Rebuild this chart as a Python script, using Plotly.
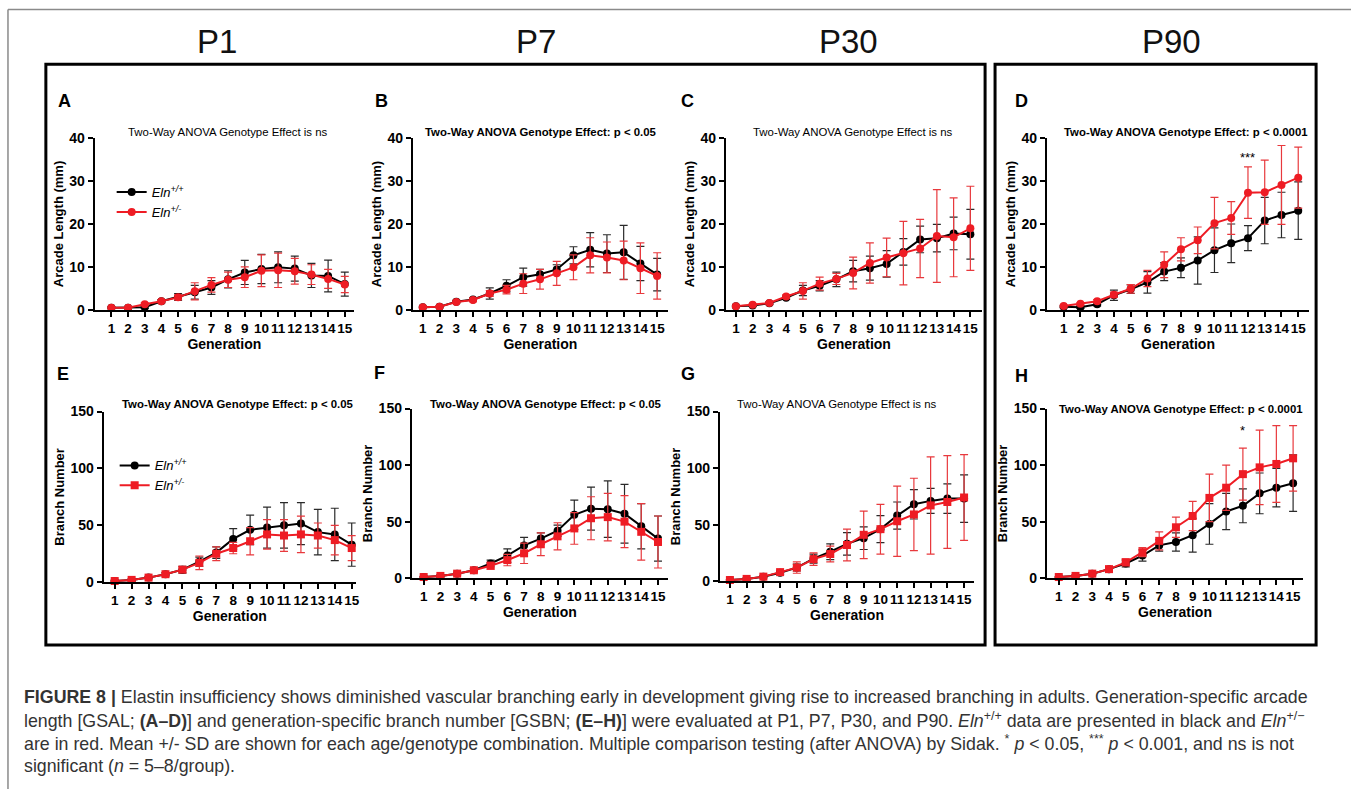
import plotly.graph_objects as go

W, H = 1355, 789
FONT = "Liberation Sans, Arial, Helvetica, sans-serif"
BLACK = "#000000"
RED = "#ee1c24"
EB_BLACK = "#2a2a2a"
EB_RED = "#e8393d"

generations = list(range(1, 16))
gen_labels = [str(g) for g in generations]
age_labels = ["P1", "P7", "P30", "P90"]
legend_wt = "<i>Eln<sup>+/+</sup></i>"
legend_het = "<i>Eln<sup>+/-</sup></i>"

# ---- Arcade length (mm), panels A-D ----
A_wt = [0.5, 0.5, 0.6, 2.0, 3.0, 4.1, 5.2, 7.1, 8.7, 9.5, 9.9, 9.6, 8.0, 7.9, 6.0]
A_wt_sd = [0.2, 0.2, 0.3, 0.4, 0.8, 1.6, 1.6, 2.0, 2.8, 3.4, 3.6, 2.9, 2.8, 3.7, 2.8]
A_het = [0.5, 0.5, 1.3, 2.0, 2.9, 4.3, 5.8, 7.0, 7.6, 9.1, 9.2, 9.0, 8.2, 7.2, 5.9]
A_het_sd = [0.2, 0.2, 0.3, 0.3, 0.6, 2.0, 1.7, 1.8, 2.4, 3.7, 4.0, 3.0, 2.3, 2.2, 1.9]

B_wt = [0.6, 0.7, 1.9, 2.4, 3.8, 5.6, 7.6, 8.3, 9.4, 12.7, 14.0, 13.1, 13.4, 10.8, 8.2]
B_wt_sd = [0.2, 0.2, 0.3, 0.4, 1.3, 1.4, 2.1, 1.1, 1.1, 2.0, 4.0, 4.4, 6.3, 4.0, 3.8]
B_het = [0.6, 0.7, 1.8, 2.3, 3.8, 4.7, 6.1, 7.1, 8.5, 9.9, 12.7, 12.2, 11.5, 9.7, 7.9]
B_het_sd = [0.2, 0.2, 0.3, 0.4, 0.7, 1.0, 2.3, 2.3, 2.8, 2.9, 4.1, 3.6, 4.5, 5.9, 5.4]

C_wt = [0.8, 1.0, 1.5, 2.8, 4.5, 5.6, 7.1, 9.0, 9.7, 10.7, 13.5, 16.4, 16.7, 17.8, 17.6]
C_wt_sd = [0.2, 0.2, 0.3, 0.4, 1.2, 1.2, 1.7, 2.5, 2.8, 3.1, 3.1, 3.1, 3.2, 3.8, 5.8]
C_het = [0.8, 1.2, 1.6, 3.1, 4.4, 6.1, 7.2, 8.6, 10.9, 12.2, 13.2, 14.3, 17.2, 16.9, 19.0]
C_het_sd = [0.2, 0.2, 0.3, 0.4, 1.9, 1.5, 1.3, 3.7, 4.7, 4.5, 7.4, 6.8, 10.8, 9.2, 9.8]

D_wt = [0.7, 0.6, 1.3, 3.4, 4.8, 6.4, 8.9, 9.8, 11.5, 13.9, 15.5, 16.7, 20.8, 22.1, 23.1]
D_wt_sd = [0.2, 0.3, 0.4, 1.2, 1.0, 2.5, 2.1, 2.3, 5.5, 5.2, 4.5, 2.9, 5.4, 5.3, 6.7]
D_het = [0.9, 1.4, 2.0, 3.5, 4.9, 7.3, 10.5, 14.1, 16.2, 20.2, 21.4, 27.3, 27.4, 29.1, 30.8]
D_het_sd = [0.2, 0.3, 0.4, 0.6, 1.0, 1.9, 3.0, 2.7, 3.1, 6.0, 3.8, 6.0, 7.5, 9.2, 7.1]

# ---- Branch number, panels E-H ----
E_wt = [1, 2, 4, 7, 11, 18, 26, 38, 46, 48, 50, 51.5, 44, 42, 33]
E_wt_sd = [0.5, 0.8, 1, 1.5, 3, 4, 5, 9, 13, 18, 20, 18.5, 20, 23, 19]
E_het = [1, 2, 4, 7, 11, 17, 25, 30, 36, 42, 41, 42, 41, 37, 30]
E_het_sd = [0.5, 0.8, 1, 1.5, 2.5, 6, 6, 5, 12, 13, 14, 16, 11, 13, 11]

F_wt = [1, 2, 4, 7, 13, 20, 29, 35, 42, 56, 61.5, 61, 57, 46, 35]
F_wt_sd = [0.5, 0.8, 1, 1.5, 3, 6, 7, 5, 5, 13, 19, 25, 26, 20, 20]
F_het = [1, 2, 4, 7, 11, 16, 22, 30, 37, 44, 53, 54, 50, 41, 32]
F_het_sd = [0.5, 0.8, 1, 1.5, 3, 5, 9, 10, 12, 14, 19, 21, 23, 25, 23]

G_wt = [1, 2, 4, 7.5, 12, 20, 26, 33, 38, 46, 58, 68, 71, 73, 73]
G_wt_sd = [0.5, 0.8, 1, 1.5, 3, 4, 7, 10, 10, 12, 12, 13, 11, 13, 21]
G_het = [1, 2, 4, 8, 12, 19.5, 24, 32, 41, 46, 53, 59, 67, 70, 74]
G_het_sd = [0.5, 0.8, 1, 1.5, 5, 5.5, 7, 14, 21, 22, 31, 32, 43, 41, 38]

H_wt = [1, 2, 4, 8, 13, 20, 29, 32, 38, 48, 59, 64, 75, 80, 84]
H_wt_sd = [0.5, 0.8, 1, 1.5, 3, 5, 5, 8, 15, 18, 16, 15, 18, 17, 25]
H_het = [1, 2, 4, 8, 14, 23, 33, 45, 55, 71, 80, 92, 98, 101, 106]
H_het_sd = [0.5, 0.8, 1, 1.5, 3, 4, 8, 9, 13, 21, 20, 23, 33, 34, 29]

panel_titles = {
    "A": "Two-Way ANOVA Genotype Effect is ns",
    "B": "<b>Two-Way ANOVA Genotype Effect: p < 0.05</b>",
    "C": "Two-Way ANOVA Genotype Effect is ns",
    "D": "<b>Two-Way ANOVA Genotype Effect: p < 0.0001</b>",
    "E": "<b>Two-Way ANOVA Genotype Effect: p < 0.05</b>",
    "F": "<b>Two-Way ANOVA Genotype Effect: p < 0.05</b>",
    "G": "Two-Way ANOVA Genotype Effect is ns",
    "H": "<b>Two-Way ANOVA Genotype Effect: p < 0.0001</b>",
}

# layout (pixels): x-axis left/right px, y top px, y bottom px, x-range
panels = [
    dict(k="A", wt=A_wt, wsd=A_wt_sd, het=A_het, hsd=A_het_sd, px=(95, 355), py=(137, 309), xr=(0.0, 15.55), ymax=40, title_xy=(229, 131), letter_xy=(65, 100), sq=False),
    dict(k="B", wt=B_wt, wsd=B_wt_sd, het=B_het, hsd=B_het_sd, px=(414, 670), py=(137, 309), xr=(0.4, 15.65), ymax=40, title_xy=(543, 131), letter_xy=(383, 100), sq=False),
    dict(k="C", wt=C_wt, wsd=C_wt_sd, het=C_het, hsd=C_het_sd, px=(728, 985), py=(137, 309), xr=(0.4, 15.7), ymax=40, title_xy=(856, 131), letter_xy=(690, 100), sq=False),
    dict(k="D", wt=D_wt, wsd=D_wt_sd, het=D_het, hsd=D_het_sd, px=(1050, 1313), py=(137, 309), xr=(0.0, 15.65), ymax=40, title_xy=(1190, 131), letter_xy=(1025, 100), sq=False),
    dict(k="E", wt=E_wt, wsd=E_wt_sd, het=E_het, hsd=E_het_sd, px=(104, 357), py=(411, 582), xr=(0.35, 15.25), ymax=150, title_xy=(239, 403), letter_xy=(63, 373), sq=True),
    dict(k="F", wt=F_wt, wsd=F_wt_sd, het=F_het, hsd=F_het_sd, px=(413, 670), py=(408, 578), xr=(0.29, 15.6), ymax=150, title_xy=(548, 403), letter_xy=(381, 372), sq=True),
    dict(k="G", wt=G_wt, wsd=G_wt_sd, het=G_het, hsd=G_het_sd, px=(722, 977), py=(411, 581), xr=(0.4, 15.6), ymax=150, title_xy=(839, 403), letter_xy=(690, 373), sq=True),
    dict(k="H", wt=H_wt, wsd=H_wt_sd, het=H_het, hsd=H_het_sd, px=(1050, 1307), py=(408, 578), xr=(0.29, 15.6), ymax=150, title_xy=(1184, 408), letter_xy=(1025, 375), sq=True),
]

# the photographed page maps figure row y to about 6.5 + 0.982*y; place items accordingly
VOFF, VSCALE = 6.5, 0.982


def fx(p):
    return p / W


def fy(p):
    return 1 - ((p - VOFF) / VSCALE) / H


fig = go.Figure()
annotations = []
layout_axes = {}

for i, p in enumerate(panels):
    n = i + 1
    xa = "x" if n == 1 else f"x{n}"
    ya = "y" if n == 1 else f"y{n}"
    legend_name = None
    show = False
    if p["k"] == "A":
        legend_name, show = "legend", True
    elif p["k"] == "E":
        legend_name, show = "legend2", True

    common = dict(mode="lines+markers", xaxis=xa, yaxis=ya, cliponaxis=False, showlegend=show)
    if legend_name:
        common["legend"] = legend_name

    fig.add_trace(go.Scatter(
        x=generations, y=p["wt"], name=legend_wt,
        line=dict(color=BLACK, width=2),
        marker=dict(color=BLACK, size=8, symbol="circle"),
        error_y=dict(type="data", array=p["wsd"], visible=True, color=EB_BLACK, thickness=1.2, width=4),
        **common))
    fig.add_trace(go.Scatter(
        x=generations, y=p["het"], name=legend_het,
        line=dict(color=RED, width=2),
        marker=dict(color=RED, size=8, symbol="square" if p["sq"] else "circle"),
        error_y=dict(type="data", array=p["hsd"], visible=True, color=EB_RED, thickness=1.2, width=4),
        **common))

    ytitle = "Arcade Length (mm)" if p["ymax"] == 40 else "Branch Number"
    yticks = [0, 10, 20, 30, 40] if p["ymax"] == 40 else [0, 50, 100, 150]
    xkey = "xaxis" if n == 1 else f"xaxis{n}"
    ykey = "yaxis" if n == 1 else f"yaxis{n}"
    layout_axes[xkey] = dict(
        domain=[fx(p["px"][0]), fx(p["px"][1])], anchor=ya, range=list(p["xr"]),
        tickvals=generations, ticktext=gen_labels, tickangle=0, showline=True, linecolor=BLACK, linewidth=2,
        ticks="outside", ticklen=5, tickwidth=2, tickcolor=BLACK, showgrid=False, zeroline=False,
        tickfont=dict(family=FONT, size=13.5, color=BLACK, weight="bold"),
        title=dict(text="Generation", font=dict(family=FONT, size=14, color=BLACK, weight="bold"), standoff=4),
    )
    layout_axes[ykey] = dict(
        domain=[fy(p["py"][1]), fy(p["py"][0])], anchor=xa, range=[0, p["ymax"]],
        tickvals=yticks, showline=True, linecolor=BLACK, linewidth=2,
        ticks="outside", ticklen=5, tickwidth=2, tickcolor=BLACK, showgrid=False, zeroline=False,
        tickfont=dict(family=FONT, size=14, color=BLACK, weight="bold"),
        title=dict(text=ytitle, font=dict(family=FONT, size=13, color=BLACK, weight="bold"), standoff=3),
    )
    annotations.append(dict(
        text=panel_titles[p["k"]], x=fx(p["title_xy"][0]), y=fy(p["title_xy"][1]),
        xref="paper", yref="paper", xanchor="center", yanchor="middle", showarrow=False,
        font=dict(family=FONT, size=11.4, color=BLACK)))
    annotations.append(dict(
        text=f"<b>{p['k']}</b>", x=fx(p["letter_xy"][0]), y=fy(p["letter_xy"][1]),
        xref="paper", yref="paper", xanchor="center", yanchor="middle", showarrow=False,
        font=dict(family=FONT, size=18, color=BLACK)))

# significance markers
annotations.append(dict(text="***", x=12, y=35.5, xref="x4", yref="y4", showarrow=False,
                        font=dict(family=FONT, size=13, color=BLACK), xanchor="center", yanchor="middle"))
annotations.append(dict(text="*", x=12, y=131, xref="x8", yref="y8", showarrow=False,
                        font=dict(family=FONT, size=13, color=BLACK), xanchor="center", yanchor="middle"))

# age headers
for lab, xc in zip(age_labels, [218, 538, 851, 1175]):
    annotations.append(dict(text=lab, x=fx(xc), y=fy(40), xref="paper", yref="paper",
                            xanchor="center", yanchor="middle", showarrow=False,
                            font=dict(family=FONT, size=33, color="#111111")))

caption_lines = [
    "<b>FIGURE 8 |</b> Elastin insufficiency shows diminished vascular branching early in development giving rise to increased branching in adults. Generation-specific arcade",
    "length [GSAL; <b>(A–D)</b>] and generation-specific branch number [GSBN; <b>(E–H)</b>] were evaluated at P1, P7, P30, and P90. <i>Eln</i><sup>+/+</sup> data are presented in black and <i>Eln</i><sup>+/−</sup>",
    "are in red. Mean +/- SD are shown for each age/genotype combination. Multiple comparison testing (after ANOVA) by Sidak. <sup>*</sup> <i>p</i> < 0.05, <sup>***</sup> <i>p</i> < 0.001, and ns is not",
    "significant (<i>n</i> = 5–8/group).",
]
for j, line in enumerate(caption_lines):
    annotations.append(dict(text=line, x=fx(22), y=fy(697 + 23 * j), xref="paper", yref="paper",
                            xanchor="left", yanchor="middle", showarrow=False,
                            font=dict(family=FONT, size=17.8, color="#333333")))

shapes = [
    dict(type="line", xref="paper", yref="paper", x0=fx(8), x1=fx(1355), y0=fy(8), y1=fy(8),
         line=dict(color="#8a8a8a", width=1.5)),
    dict(type="line", xref="paper", yref="paper", x0=fx(8), x1=fx(8), y0=fy(8), y1=fy(800),
         line=dict(color="#8a8a8a", width=1.5)),
    dict(type="rect", xref="paper", yref="paper", x0=fx(46), x1=fx(988), y0=fy(63), y1=fy(645),
         line=dict(color=BLACK, width=3)),
    dict(type="rect", xref="paper", yref="paper", x0=fx(998), x1=fx(1320), y0=fy(63), y1=fy(645),
         line=dict(color=BLACK, width=3)),
]

legend_common = dict(bgcolor="rgba(0,0,0,0)", font=dict(family=FONT, size=13, color=BLACK),
                     itemwidth=30, tracegroupgap=0, xanchor="left", yanchor="top", xref="paper", yref="paper")

fig.update_layout(
    width=W, height=H, margin=dict(l=0, r=0, t=0, b=0),
    paper_bgcolor="white", plot_bgcolor="white",
    annotations=annotations, shapes=shapes,
    legend=dict(x=fx(112), y=fy(176), **legend_common),
    legend2=dict(x=fx(115), y=fy(450), **legend_common),
    **layout_axes,
)

PIN_SCRIPT = (
    "document.documentElement.style.overflow='hidden';"
    "document.body.style.margin='0px';document.body.style.overflow='hidden';"
    "var d=document.getElementById('{plot_id}');"
    "d.style.position='fixed';d.style.left='0px';d.style.top='0px';"
)

fig.write_html("out.html", config={"displayModeBar": False}, post_script=PIN_SCRIPT)
